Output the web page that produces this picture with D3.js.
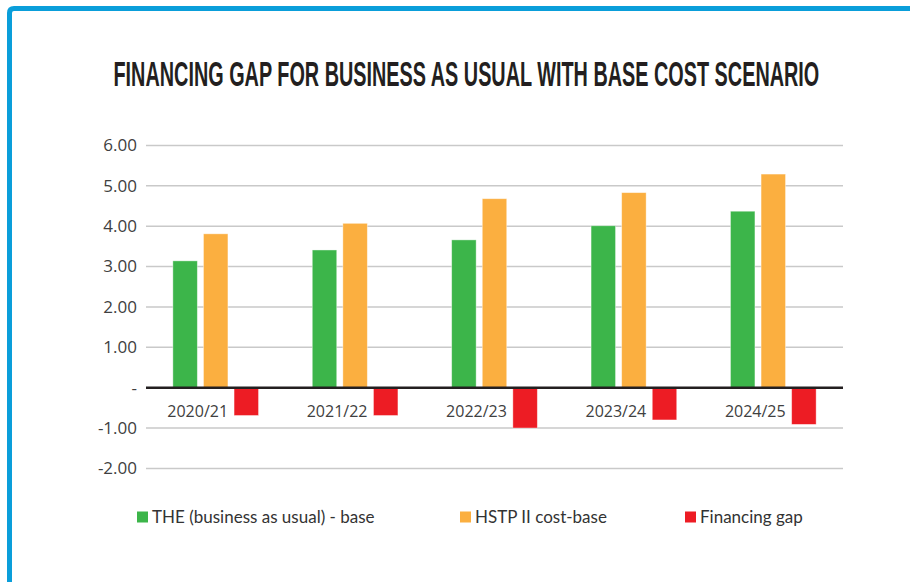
<html>
  <head>
    <meta charset="utf-8">
    <style>
      body { margin: 0; background: #fff; }
      svg { display: block; }
      .grid line { stroke: #c9c9c9; stroke-width: 1.5; }
      .tick-label { font-family: 'Open Sans', sans-serif; font-size: 16px; fill: #404040; }
      .y-label { font-size: 17px; }
      .legend-label { font-family: Lato, sans-serif; font-size: 17px; fill: #333; }
    </style>
    <script src="https://cdnjs.cloudflare.com/ajax/libs/d3/7.8.5/d3.min.js"></script>
  </head>
  <body>
    <svg id="svg"></svg>
    <script>
      var categories = ["2020/21", "2021/22", "2022/23", "2023/24", "2024/25"];
      var theBase = [3.14, 3.41, 3.66, 4.01, 4.37];
      var hstpCost = [3.81, 4.07, 4.68, 4.83, 5.29];
      var financingGap = [-0.69, -0.69, -1.00, -0.80, -0.91];
      var seriesNames = ["THE (business as usual) - base", "HSTP II cost-base", "Financing gap"];
      var yTicks = [-2, -1, 0, 1, 2, 3, 4, 5, 6];

      var width = 910,
          height = 582,
          left = 146,
          right = 843;

      var colors = ["#3cb54a", "#fbaf40", "#ed1c24"];
      var seriesValues = [theBase, hstpCost, financingGap];

      var svg = d3.select("#svg")
        .attr("width", width)
        .attr("height", height);

      // blue frame, runs off the right and bottom edge
      svg.append("path")
        .attr("d", "M9.5,600 L9.5,13 Q9.5,8.5 14,8.5 L920,8.5")
        .attr("fill", "none")
        .attr("stroke", "#0a9eda")
        .attr("stroke-width", 5);

      // title: condensed look, squeezed to the original width
      var title = svg.append("text")
        .attr("x", 0)
        .attr("y", 0)
        .style("font-family", "'Liberation Sans Narrow', 'Liberation Sans', sans-serif")
        .style("font-weight", "bold")
        .style("font-size", "35px")
        .style("fill", "#231f20")
        .text("FINANCING GAP FOR BUSINESS AS USUAL WITH BASE COST SCENARIO");
      var titleW = title.node().getComputedTextLength();
      title.attr("transform", "translate(113.5,86) scale(" + (706 / titleW) + ",1)");

      var y = d3.scaleLinear()
        .domain([-2, 6])
        .range([468.4, 145.4]);

      var x0 = d3.scaleBand()
        .domain(categories)
        .range([left, right])
        .padding(0);

      var x1 = d3.scaleBand()
        .domain(d3.range(seriesNames.length))
        .range([0, x0.bandwidth()])
        .paddingInner(0.2)
        .paddingOuter(0.878);

      // gridlines
      svg.append("g").attr("class", "grid")
        .selectAll("line")
        .data(yTicks.filter(d => d !== 0))
        .enter().append("line")
          .attr("x1", left)
          .attr("x2", right)
          .attr("y1", d => y(d))
          .attr("y2", d => y(d));

      // y axis labels, plain hyphen for the minus like the original
      var fmt = d3.format(".2f");
      var yAxis = d3.axisLeft(y)
        .tickValues(yTicks)
        .tickSize(0)
        .tickPadding(9)
        .tickFormat(d => d === 0 ? "-" : fmt(d).replace("\u2212", "-"));

      var ya = svg.append("g")
        .attr("transform", "translate(" + left + ",0)")
        .call(yAxis);
      ya.select(".domain").remove();
      ya.attr("font-family", null).attr("font-size", null);
      ya.selectAll("text")
        .attr("class", "tick-label y-label");

      // bars
      var groups = svg.selectAll("g.cat")
        .data(categories)
        .enter().append("g")
          .attr("class", "cat")
          .attr("transform", d => "translate(" + x0(d) + ",0)");

      groups.selectAll("rect")
        .data((d, i) => seriesValues.map((s, j) => ({ s: j, v: s[i] })))
        .enter().append("rect")
          .attr("x", d => x1(d.s))
          .attr("width", x1.bandwidth())
          .attr("y", d => y(Math.max(0, d.v)))
          .attr("height", d => Math.abs(y(d.v) - y(0)))
          .attr("fill", d => colors[d.s])
          .attr("stroke", "#fff")
          .attr("stroke-opacity", 0.5)
          .attr("stroke-width", 0.8);

      // zero line
      svg.append("line")
        .attr("x1", left)
        .attr("x2", right)
        .attr("y1", y(0))
        .attr("y2", y(0))
        .attr("stroke", "#231f20")
        .attr("stroke-width", 2.5);

      // category labels sit left of the red bar
      groups.append("text")
        .attr("class", "tick-label")
        .attr("x", x1(2) - 6)
        .attr("y", 417)
        .attr("text-anchor", "end")
        .text(d => d);

      // legend
      var legendX = [137, 460, 685];
      var legend = svg.selectAll("g.legend")
        .data(seriesNames)
        .enter().append("g")
          .attr("class", "legend")
          .attr("transform", (d, i) => "translate(" + legendX[i] + ",511.5)");

      legend.append("rect")
        .attr("width", 11)
        .attr("height", 11)
        .attr("fill", (d, i) => colors[i]);

      legend.append("text")
        .attr("class", "legend-label")
        .attr("x", 15)
        .attr("y", 11.5)
        .text(d => d);
    </script>
  </body>
</html>
